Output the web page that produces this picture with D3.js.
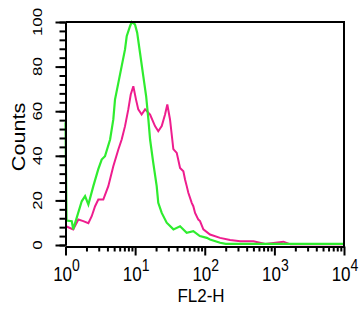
<!DOCTYPE html>
<html>
<head>
<meta charset="utf-8">
<script src="https://cdn.jsdelivr.net/npm/d3@7"></script>
<style>
  html, body { margin: 0; padding: 0; background: #fff; }
  svg { display: block; }
  text { font-family: "Liberation Sans", Arial, Helvetica, sans-serif; fill: #000; }
</style>
</head>
<body>
<div id="chart"></div>
<script>
// FL2-H histogram: isotype control (green) vs stained sample (magenta).
// Values: FL2-H channel value, counts.

const greenFL2 = [1, 1.035, 1.23, 1.29, 1.71, 1.91, 2.13, 2.51, 2.95, 3.31, 3.69,
  4.37, 4.86, 5.14, 5.74, 6.41, 7.16, 7.57, 8.45, 8.93, 9.95, 10.7, 11.75, 13.1,
  14.4, 15.5, 16.4, 18.2, 20.4, 21.5, 24.1, 28.4, 35.5, 44.2, 55, 68.5, 85, 107,
  119, 166, 200, 10000];
const greenCounts = [55, 11, 10.7, 7, 19.6, 21.9, 18.2, 26.4, 33.9, 38.3, 39.8,
  47.3, 56.3, 65.2, 72.7, 80.2, 87.7, 93.6, 98.1, 100, 98.9, 95.2, 86.2, 75.7,
  66.7, 56.3, 47.3, 36.9, 26.4, 18.9, 14.4, 10, 7, 8.4, 5.5, 6.2, 4, 3.2,
  2.5, 1, 0.5, 0.5];

const magentaFL2 = [1.016, 1.29, 1.53, 1.8, 2.13, 2.38, 2.66, 2.96, 3.49, 4.12,
  4.86, 5.74, 6.41, 7.16, 7.98, 8.65, 9.42, 10.3, 11.1, 12.4, 13.9, 16.4, 19.3,
  21.5, 24.1, 26.9, 29, 31.7, 35.4, 39.6, 44.2, 49.3, 52.1, 55.1, 58.1, 65,
  68.5, 72.6, 80.9, 85.5, 95.5, 119, 166, 231, 324, 501, 741, 1349, 1698, 10000];
const magentaCounts = [8.4, 7, 11.4, 10.7, 9.8, 12.9, 17.4, 20.4, 20.4, 26.4,
  35.3, 42.8, 47.3, 53.3, 60.8, 67.5, 71.2, 65.2, 60.8, 58.5, 60.8, 58.5, 53.3,
  51, 53.3, 58.5, 63, 56.3, 43, 41.3, 34.5, 33.1, 29.4, 26.4, 23.4, 18.9,
  17.4, 14.4, 11.4, 10.7, 7, 4.7, 3.2, 2.2, 1.7, 1.7, 0.5, 1.5, 0.3, 0.3];

const xMajorTicks = [1, 10, 100, 1000, 10000];
const xMinorTicks = [];
for (const decade of [1, 10, 100, 1000]) {
  for (let m = 2; m <= 9; m++) xMinorTicks.push(decade * m);
}
const yMajorTicks = [0, 20, 40, 60, 80, 100];
const yMinorTicks = d3.range(0, 101, 4);

const GREEN = "#2fec2f";
const MAGENTA = "#ee1d8e";

const width = 364;
const height = 321;
const plotLeft = 65.5, plotRight = 344, plotTop = 22, plotBottom = 245;

const x = d3.scaleLog().domain([1, 10000]).range([plotLeft, plotRight]);
const y = d3.scaleLinear().domain([0, 100]).range([plotBottom, plotTop]);

const svg = d3.select("#chart").append("svg")
  .attr("width", width)
  .attr("height", height);

// ---- curves ----
const line = d3.line()
  .x((d) => x(d[0]))
  .y((d) => y(d[1]));

svg.append("path")
  .datum(d3.zip(magentaFL2, magentaCounts))
  .attr("d", line)
  .attr("fill", "none")
  .attr("stroke", MAGENTA)
  .attr("stroke-width", 2);

svg.append("path")
  .datum(d3.zip(greenFL2, greenCounts))
  .attr("d", line)
  .attr("fill", "none")
  .attr("stroke", GREEN)
  .attr("stroke-width", 2.2);

// ---- frame (top and right) ----
svg.append("path")
  .attr("d", `M${plotLeft},${plotTop}H${plotRight}V${plotBottom + 2}`)
  .attr("fill", "none")
  .attr("stroke", "#000")
  .attr("stroke-width", 2);

// ---- y axis ----
const yAxisG = svg.append("g").attr("transform", `translate(${plotLeft},0)`);
yAxisG.append("g")
  .call(d3.axisLeft(y).tickValues(yMinorTicks).tickSize(6).tickSizeOuter(0).tickFormat(""));
yAxisG.append("g")
  .call(d3.axisLeft(y).tickValues(yMajorTicks).tickSize(10).tickSizeOuter(0).tickFormat(""));
yAxisG.selectAll("line, path").attr("stroke", "#000").attr("stroke-width", 2);

svg.selectAll(".ylabel")
  .data(yMajorTicks)
  .enter()
  .append("text")
  .attr("class", "ylabel")
  .attr("transform", (d) => `translate(42,${y(d)}) rotate(-90) scale(1.3,1)`)
  .attr("text-anchor", "middle")
  .style("font-size", "13px")
  .text((d) => d);

svg.append("text")
  .attr("transform", `translate(25,137) rotate(-90) scale(1.2,1)`)
  .attr("text-anchor", "middle")
  .style("font-size", "18px")
  .text("Counts");

// ---- x axis ----
const xAxisG = svg.append("g").attr("transform", `translate(0,${plotBottom + 1.5})`);
xAxisG.append("g")
  .call(d3.axisBottom(x).tickValues(xMinorTicks).tickSize(5).tickSizeOuter(0).tickFormat(""));
xAxisG.append("g")
  .call(d3.axisBottom(x).tickValues(xMajorTicks).tickSize(9).tickSizeOuter(0).tickFormat(""));
xAxisG.selectAll("line, path").attr("stroke", "#000").attr("stroke-width", 2);

const xLabels = svg.selectAll(".xlabel")
  .data(xMajorTicks)
  .enter()
  .append("text")
  .attr("class", "xlabel")
  .attr("transform", (d) => `translate(${x(d) + 1},281) scale(1,1.16)`)
  .attr("text-anchor", "middle")
  .style("font-size", "17px");
xLabels.append("tspan").text("10");
xLabels.append("tspan")
  .attr("dy", -9)
  .style("font-size", "14px")
  .text((d) => Math.round(Math.log10(d)));

svg.append("text")
  .attr("transform", `translate(201,302) scale(1,1.12)`)
  .attr("text-anchor", "middle")
  .style("font-size", "17px")
  .text("FL2-H");
</script>
</body>
</html>
